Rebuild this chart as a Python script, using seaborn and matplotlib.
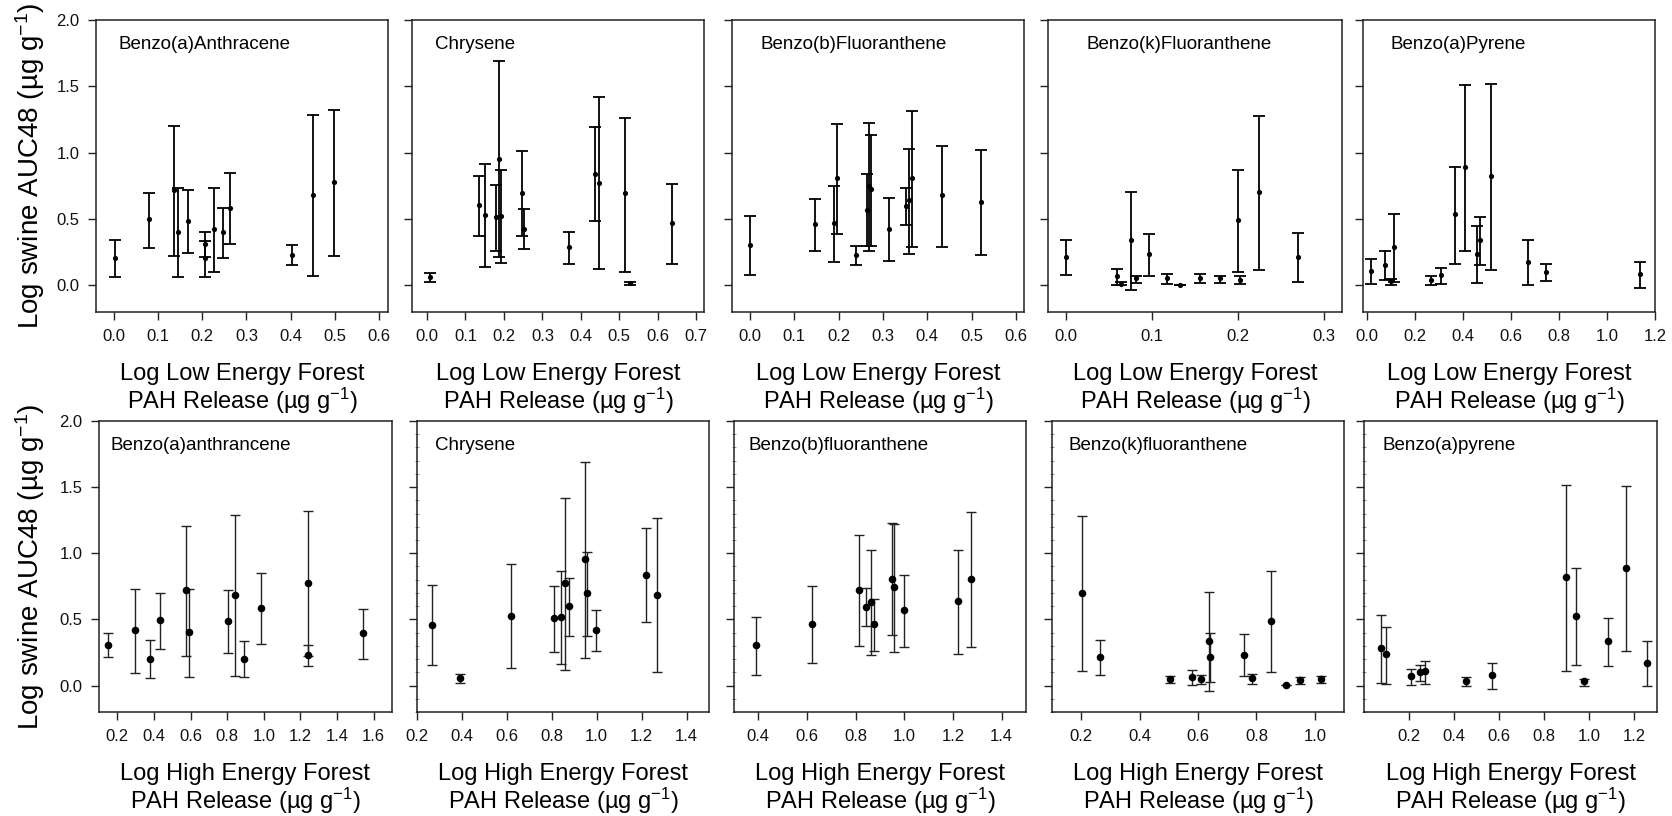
import numpy as np
import pandas as pd
import matplotlib
matplotlib.use("Agg")
import matplotlib.pyplot as plt
import seaborn as sns
from matplotlib.ticker import FormatStrFormatter, MultipleLocator

# ---------------- data: top row (low energy forest) ----------------
baa_low_x = [0.003, 0.079, 0.137, 0.146, 0.167, 0.206, 0.207, 0.227, 0.248, 0.262, 0.403, 0.451, 0.497]
baa_low_y = [0.206, 0.497, 0.720, 0.404, 0.489, 0.309, 0.206, 0.422, 0.400, 0.585, 0.233, 0.685, 0.778]
baa_low_lo = [0.063, 0.281, 0.223, 0.063, 0.243, 0.216, 0.065, 0.100, 0.206, 0.314, 0.151, 0.073, 0.223]
baa_low_hi = [0.339, 0.700, 1.202, 0.733, 0.720, 0.399, 0.334, 0.733, 0.582, 0.848, 0.306, 1.287, 1.322]

chr_low_x = [0.009, 0.136, 0.151, 0.179, 0.188, 0.193, 0.248, 0.253, 0.368, 0.436, 0.447, 0.515, 0.528, 0.636]
chr_low_y = [0.065, 0.605, 0.534, 0.514, 0.956, 0.524, 0.700, 0.429, 0.286, 0.843, 0.775, 0.693, 0.018, 0.467]
chr_low_lo = [0.023, 0.376, 0.138, 0.263, 0.213, 0.168, 0.376, 0.271, 0.161, 0.482, 0.123, 0.105, 0.003, 0.161]
chr_low_hi = [0.093, 0.821, 0.916, 0.758, 1.689, 0.868, 1.011, 0.575, 0.399, 1.192, 1.418, 1.265, 0.028, 0.765]

bbf_low_x = [0.000, 0.148, 0.190, 0.196, 0.240, 0.264, 0.269, 0.273, 0.314, 0.353, 0.359, 0.365, 0.433, 0.521]
bbf_low_y = [0.306, 0.464, 0.469, 0.808, 0.231, 0.570, 0.750, 0.728, 0.429, 0.600, 0.642, 0.808, 0.680, 0.630]
bbf_low_lo = [0.078, 0.263, 0.176, 0.384, 0.156, 0.301, 0.258, 0.301, 0.186, 0.452, 0.238, 0.286, 0.291, 0.226]
bbf_low_hi = [0.522, 0.652, 0.753, 1.220, 0.294, 0.836, 1.225, 1.137, 0.660, 0.733, 1.026, 1.315, 1.054, 1.024]

bkf_low_x = [0.000, 0.059, 0.064, 0.075, 0.081, 0.096, 0.118, 0.133, 0.156, 0.179, 0.200, 0.202, 0.225, 0.270]
bkf_low_y = [0.218, 0.068, 0.013, 0.341, 0.053, 0.236, 0.053, 0.005, 0.058, 0.053, 0.492, 0.043, 0.703, 0.218]
bkf_low_lo = [0.080, 0.003, 0.003, -0.035, 0.015, 0.070, 0.008, 0.005, 0.018, 0.018, 0.105, 0.013, 0.113, 0.028]
bkf_low_hi = [0.346, 0.123, 0.023, 0.705, 0.073, 0.391, 0.083, 0.005, 0.088, 0.073, 0.868, 0.068, 1.280, 0.396]

bap_low_x = [0.015, 0.076, 0.099, 0.113, 0.267, 0.310, 0.367, 0.409, 0.460, 0.470, 0.515, 0.669, 0.745, 1.139]
bap_low_y = [0.110, 0.156, 0.033, 0.289, 0.038, 0.078, 0.535, 0.893, 0.238, 0.339, 0.823, 0.176, 0.105, 0.085]
bap_low_lo = [0.010, 0.038, 0.003, 0.023, 0.003, 0.008, 0.161, 0.263, 0.015, 0.151, 0.115, 0.000, 0.035, -0.020]
bap_low_hi = [0.196, 0.263, 0.048, 0.537, 0.068, 0.133, 0.896, 1.511, 0.447, 0.512, 1.521, 0.341, 0.161, 0.176]

# ---------------- data: bottom row (high energy forest) ----------------
baa_high_x = [0.149, 0.295, 0.381, 0.434, 0.574, 0.589, 0.804, 0.841, 0.893, 0.987, 1.244, 1.244, 1.543]
baa_high_y = [0.309, 0.420, 0.204, 0.496, 0.720, 0.403, 0.488, 0.684, 0.204, 0.584, 0.777, 0.231, 0.397]
baa_high_lo = [0.214, 0.098, 0.060, 0.279, 0.221, 0.063, 0.247, 0.073, 0.065, 0.312, 0.224, 0.148, 0.204]
baa_high_hi = [0.395, 0.732, 0.342, 0.702, 1.205, 0.732, 0.722, 1.288, 0.335, 0.848, 1.323, 0.304, 0.581]

chr_high_x = [0.269, 0.392, 0.618, 0.810, 0.839, 0.857, 0.875, 0.947, 0.955, 0.996, 1.219, 1.269]
chr_high_y = [0.461, 0.060, 0.529, 0.511, 0.519, 0.776, 0.599, 0.955, 0.698, 0.423, 0.839, 0.688]
chr_high_lo = [0.154, 0.018, 0.136, 0.257, 0.161, 0.116, 0.373, 0.209, 0.373, 0.264, 0.479, 0.101]
chr_high_hi = [0.761, 0.091, 0.917, 0.756, 0.864, 1.421, 0.816, 1.693, 1.013, 0.574, 1.194, 1.267]

bbf_high_x = [0.392, 0.619, 0.813, 0.841, 0.861, 0.876, 0.950, 0.957, 0.998, 1.222, 1.275]
bbf_high_y = [0.307, 0.466, 0.725, 0.597, 0.632, 0.463, 0.806, 0.748, 0.572, 0.640, 0.809]
bbf_high_lo = [0.078, 0.174, 0.302, 0.453, 0.229, 0.259, 0.383, 0.257, 0.295, 0.237, 0.290]
bbf_high_hi = [0.521, 0.753, 1.141, 0.735, 1.025, 0.655, 1.227, 1.222, 0.839, 1.028, 1.315]

bkf_high_x = [0.202, 0.264, 0.504, 0.581, 0.611, 0.637, 0.641, 0.756, 0.784, 0.851, 0.903, 0.949, 1.021]
bkf_high_y = [0.700, 0.216, 0.048, 0.065, 0.050, 0.339, 0.216, 0.233, 0.058, 0.489, 0.005, 0.040, 0.048]
bkf_high_lo = [0.113, 0.080, 0.020, 0.003, 0.008, -0.038, 0.025, 0.070, 0.015, 0.105, 0.005, 0.013, 0.020]
bkf_high_hi = [1.279, 0.341, 0.070, 0.118, 0.083, 0.705, 0.394, 0.389, 0.088, 0.865, 0.005, 0.063, 0.070]

bap_high_x = [0.074, 0.099, 0.210, 0.248, 0.272, 0.451, 0.570, 0.895, 0.939, 0.975, 1.084, 1.162, 1.257]
bap_high_y = [0.283, 0.236, 0.073, 0.100, 0.108, 0.035, 0.083, 0.820, 0.529, 0.033, 0.334, 0.888, 0.173]
bap_high_lo = [0.023, 0.015, 0.005, 0.033, 0.013, 0.000, -0.023, 0.113, 0.158, 0.000, 0.148, 0.261, 0.000]
bap_high_hi = [0.534, 0.446, 0.128, 0.158, 0.188, 0.063, 0.173, 1.517, 0.890, 0.050, 0.509, 1.507, 0.334]

top_titles = ["Benzo(a)Anthracene", "Chrysene", "Benzo(b)Fluoranthene",
              "Benzo(k)Fluoranthene", "Benzo(a)Pyrene"]
bottom_titles = ["Benzo(a)anthrancene", "Chrysene", "Benzo(b)fluoranthene",
                 "Benzo(k)fluoranthene", "Benzo(a)pyrene"]
ylabel_text = "Log swine AUC48 (µg g$^{\\mathregular{-1}}$)"
top_xlabel = "Log Low Energy Forest\nPAH Release (µg g$^{\\mathregular{-1}}$)"
bottom_xlabel = "Log High Energy Forest\nPAH Release (µg g$^{\\mathregular{-1}}$)"
y_ticks = [0.0, 0.5, 1.0, 1.5, 2.0]

top_data = [(baa_low_x, baa_low_y, baa_low_lo, baa_low_hi),
            (chr_low_x, chr_low_y, chr_low_lo, chr_low_hi),
            (bbf_low_x, bbf_low_y, bbf_low_lo, bbf_low_hi),
            (bkf_low_x, bkf_low_y, bkf_low_lo, bkf_low_hi),
            (bap_low_x, bap_low_y, bap_low_lo, bap_low_hi)]
bottom_data = [(baa_high_x, baa_high_y, baa_high_lo, baa_high_hi),
               (chr_high_x, chr_high_y, chr_high_lo, chr_high_hi),
               (bbf_high_x, bbf_high_y, bbf_high_lo, bbf_high_hi),
               (bkf_high_x, bkf_high_y, bkf_high_lo, bkf_high_hi),
               (bap_high_x, bap_high_y, bap_high_lo, bap_high_hi)]

# ---------------- layout / style ----------------
sns.set_theme(style="ticks")
plt.rcParams['font.family'] = ['Liberation Sans', 'DejaVu Sans']
plt.rcParams['mathtext.default'] = 'regular'

W, H = 1672, 816
fig = plt.figure(figsize=(W / 100, H / 100), dpi=100)

top_cols = [(96, 388), (412, 704), (732, 1024), (1048, 1342), (1363, 1655)]
bot_cols = [(99, 392), (417, 709), (734, 1026), (1052, 1344), (1364, 1657)]
top_rows = (20, 312)
bot_rows = (421, 712)

top_xlims = [(-0.04, 0.62), (-0.039, 0.72), (-0.04, 0.618), (-0.021, 0.321), (-0.017, 1.2)]
top_xticks = [np.arange(0, 0.61, 0.1), np.arange(0, 0.71, 0.1), np.arange(0, 0.61, 0.1),
              np.arange(0, 0.31, 0.1), np.arange(0, 1.21, 0.2)]
bot_xlims = [(0.1, 1.7), (0.2, 1.5), (0.3, 1.5), (0.1, 1.1), (0.0, 1.3)]
bot_xticks = [np.arange(0.2, 1.61, 0.2), np.arange(0.2, 1.41, 0.2), np.arange(0.4, 1.41, 0.2),
              np.arange(0.2, 1.01, 0.2), np.arange(0.2, 1.21, 0.2)]
top_title_off = [23, 23, 29, 38, 27]
bot_title_off = [11, 18, 15, 17, 19]


def make_ax(cols, rows):
    l, r = cols
    t, b = rows
    return fig.add_axes([l / W, 1 - b / H, (r - l) / W, (b - t) / H])


def draw_panel(ax, data, title, xlim, xticks, title_off, top, first, xlabel):
    x, y, lo, hi = data
    df = pd.DataFrame({"x": x, "y": y, "lo": lo, "hi": hi})
    yerr = np.vstack([df["y"] - df["lo"], df["hi"] - df["y"]])
    if top:
        ax.errorbar(df["x"], df["y"], yerr=yerr, fmt="none", ecolor="black",
                    elinewidth=1.3, capsize=4.6, capthick=1.3, zorder=2)
        sns.scatterplot(data=df, x="x", y="y", ax=ax, color="black", s=14,
                        edgecolor="black", linewidth=0, zorder=3, legend=False)
    else:
        ax.errorbar(df["x"], df["y"], yerr=yerr, fmt="none", ecolor="#222222",
                    elinewidth=1.0, capsize=3.6, capthick=1.0, zorder=2)
        sns.scatterplot(data=df, x="x", y="y", ax=ax, color="black", s=30,
                        edgecolor="black", linewidth=0, zorder=3, legend=False)
    ax.set_xlim(*xlim)
    ax.set_ylim(-0.2, 2.0)
    ax.set_xticks(xticks)
    ax.set_yticks(y_ticks)
    ax.xaxis.set_major_formatter(FormatStrFormatter("%.1f"))
    ax.yaxis.set_major_formatter(FormatStrFormatter("%.1f"))
    ax.tick_params(axis="both", direction="out", length=6, width=1.0, pad=6,
                   labelsize=12, colors="#222222", labelcolor="#111111")
    if not first:
        ax.tick_params(axis="y", labelleft=False)
        if not top:
            ax.yaxis.set_minor_locator(MultipleLocator(0.1))
            ax.tick_params(axis="y", which="minor", direction="inout", length=3,
                           width=0.6, colors="#777777")
    for sp in ax.spines.values():
        sp.set_visible(True)
        sp.set_color("#222222")
        sp.set_linewidth(1.1)
    ax.set_ylabel("")
    ax.set_xlabel(xlabel, fontsize=17, labelpad=14, linespacing=1.05, color="black")
    ax.text(title_off / ax.bbox.width * (fig.dpi / 100), 1 - 25 / ax.bbox.height,
            title, transform=ax.transAxes, ha="left", va="center",
            fontsize=13.5, color="black")


for i in range(5):
    ax = make_ax(top_cols[i], top_rows)
    draw_panel(ax, top_data[i], top_titles[i], top_xlims[i], top_xticks[i],
               top_title_off[i], True, i == 0, top_xlabel)
for i in range(5):
    ax = make_ax(bot_cols[i], bot_rows)
    draw_panel(ax, bottom_data[i], bottom_titles[i], bot_xlims[i], bot_xticks[i],
               bot_title_off[i], False, i == 0, bottom_xlabel)

fig.text(30 / W, 1 - ((top_rows[0] + top_rows[1]) / 2) / H, ylabel_text,
         rotation=90, ha="center", va="center", fontsize=20, color="black")
fig.text(30 / W, 1 - ((bot_rows[0] + bot_rows[1]) / 2) / H, ylabel_text,
         rotation=90, ha="center", va="center", fontsize=20, color="black")

fig.savefig("out.png", dpi=100, facecolor="white")
